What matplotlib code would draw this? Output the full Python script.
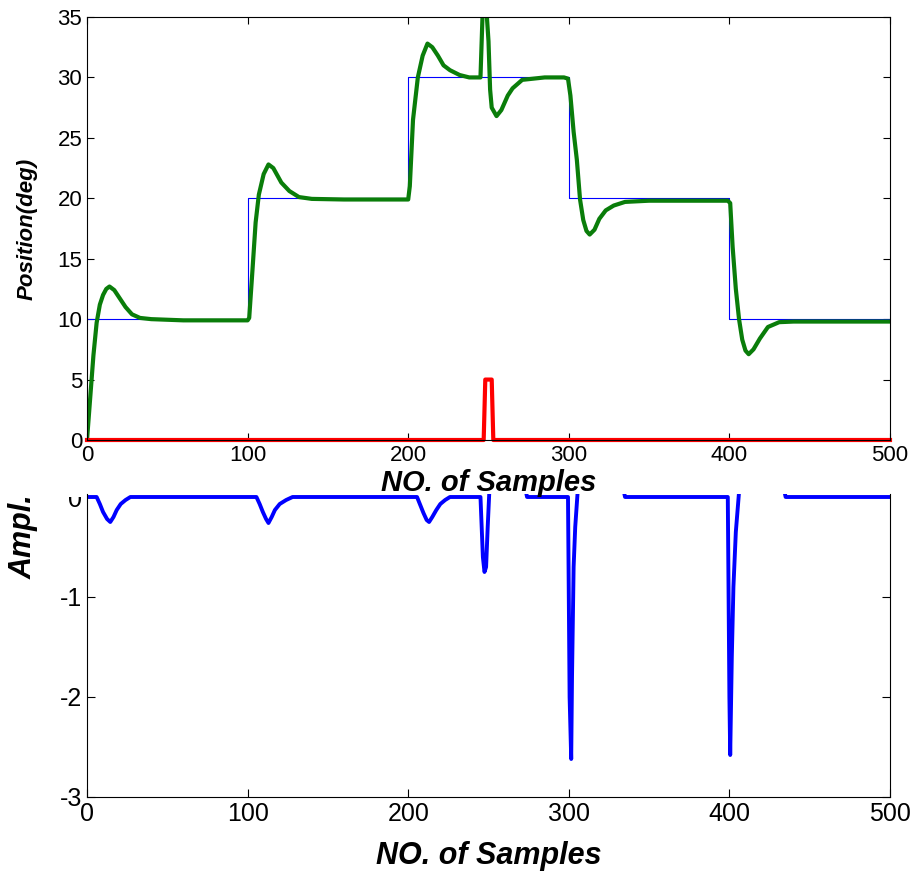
import numpy as np
import matplotlib.pyplot as plt
from matplotlib.patches import Rectangle

plt.rcParams['font.family'] = ['Liberation Sans', 'DejaVu Sans']
plt.rcParams['axes.unicode_minus'] = False

# reference steps (sample where the new level starts, level)
ref_x = [0, 100, 200, 300, 400, 500]
ref_y = [10, 20, 30, 20, 10, 10]

# plant output (position, deg)
pos_x = [0, 2, 4, 6, 8, 10, 12, 14, 17, 20, 24, 28, 33, 40, 60, 100,
         101, 103, 105, 107, 110, 113, 116, 121, 126, 132, 140, 160, 200,
         201, 203, 206, 209, 212, 215, 218.5, 222, 226, 232, 238, 245,
         246.5, 248.5, 250, 251, 252, 255, 258, 262, 265, 271, 278, 285,
         297, 299.5, 301, 303, 305, 307, 309, 311, 313, 316, 319, 323, 328,
         335, 350, 399, 400.5, 402, 404, 406, 408, 410, 412, 415, 419, 424,
         431, 440, 500]
pos_y = [0, 3.5, 7, 9.7, 11.2, 12.0, 12.5, 12.7, 12.4, 11.8, 11.0, 10.4, 10.1,
         10.0, 9.9, 9.9,
         10.1, 14, 18, 20.3, 22.0, 22.8, 22.5, 21.3, 20.6, 20.1, 19.95, 19.9,
         19.9,
         21, 26.5, 30, 31.8, 32.8, 32.5, 31.8, 31.0, 30.6, 30.2, 30.0, 30.0,
         36, 36, 33, 29, 27.5, 26.8, 27.3, 28.5, 29.1, 29.8, 29.9, 30.0,
         30.0, 29.9, 28.5, 25.5, 23.2, 19.9, 18.2, 17.3, 17.0, 17.4, 18.3,
         19.0, 19.4, 19.7, 19.8, 19.8, 19.6, 16, 12.5, 10, 8.3, 7.4, 7.1,
         7.5, 8.4, 9.35, 9.75, 9.8, 9.8]

# disturbance pulse
dist_x = [0, 247, 248, 252, 253, 500]
dist_y = [0, 0, 5, 5, 0, 0]

# amplitude signal
amp_x = [0, 6, 8, 10, 12.5, 14.5, 16.5, 18.5, 21, 24, 27,
         105.5, 107.5, 109.5, 111.5, 113, 115, 117, 120, 124, 128,
         205.5, 207.5, 209.5, 211.5, 213, 215, 217.5, 220, 223, 226,
         245, 246.5, 247.5, 248.5, 249.5, 250.5, 252, 260, 273, 274,
         299.5, 300.5, 301.5, 302, 303, 304, 305.5, 310, 320, 334, 335,
         399, 400, 400.5, 401.5, 402.5, 404, 406, 410, 420, 434, 435, 500]
amp_y = [0, 0, -0.07, -0.15, -0.22, -0.25, -0.2, -0.13, -0.07, -0.03, 0,
         0, -0.07, -0.15, -0.22, -0.26, -0.2, -0.13, -0.07, -0.03, 0,
         0, -0.08, -0.16, -0.23, -0.25, -0.2, -0.13, -0.07, -0.03, 0,
         0, -0.6, -0.75, -0.7, -0.3, 0.05, 0.15, 0.1, 0.08, 0,
         0, -2.0, -2.62, -1.8, -0.7, -0.3, 0.05, 0.2, 0.1, 0.08, 0,
         0, -2.0, -2.58, -1.6, -0.9, -0.35, 0.05, 0.2, 0.1, 0.08, 0, 0]

fig = plt.figure(figsize=(9.19, 8.82), dpi=100)

# lower plot (its top part is hidden in the original)
ax2 = fig.add_axes([87 / 919, 1 - 797 / 882, 803 / 919, 303 / 882])
ax2.plot(amp_x, amp_y, color='blue', linewidth=2.8)
ax2.set_xlim(0, 500)
ax2.set_ylim(-3, 0.03)
ax2.set_yticks([-3, -2, -1, 0])
ax2.set_xticks([0, 100, 200, 300, 400, 500])
ax2.spines['top'].set_visible(False)
ax2.tick_params(direction='in', length=6, labelsize=18, right=True, top=False)
ax2.set_xlabel('NO. of Samples', fontsize=22, fontweight='bold', style='italic')
ax2.xaxis.set_label_coords(0.5, -0.145)
ax2.set_ylabel('Ampl.', fontsize=22, fontweight='bold', style='italic')
ax2.yaxis.set_label_coords(-0.06, 0.86)
ax2.add_patch(Rectangle((0, 1 - 497 / 882), 86 / 919, 50 / 882,
                        transform=fig.transFigure, facecolor='white',
                        edgecolor='none', clip_on=False, zorder=10))

# upper plot
ax1 = fig.add_axes([87 / 919, 1 - 440 / 882, 803 / 919, 423 / 882])
ax1.step(ref_x, ref_y, where='post', color='blue', linewidth=0.8)
ax1.plot(pos_x, pos_y, color='#0a7d0a', linewidth=3)
ax1.plot(dist_x, dist_y, color='red', linewidth=3, clip_on=False)
ax1.set_xlim(0, 500)
ax1.set_ylim(0, 35)
ax1.set_xticks([0, 100, 200, 300, 400, 500])
ax1.set_yticks(np.arange(0, 36, 5))
ax1.tick_params(direction='in', length=5, labelsize=16, right=True, top=True)
ax1.set_xlabel('NO. of Samples', fontsize=21, fontweight='bold', style='italic')
ax1.xaxis.set_label_coords(0.5, -0.068)
ax1.set_ylabel('Position(deg)', fontsize=16, fontweight='bold', style='italic')
ax1.yaxis.set_label_coords(-0.062, 0.5)

fig.savefig('out.png', dpi=100)
